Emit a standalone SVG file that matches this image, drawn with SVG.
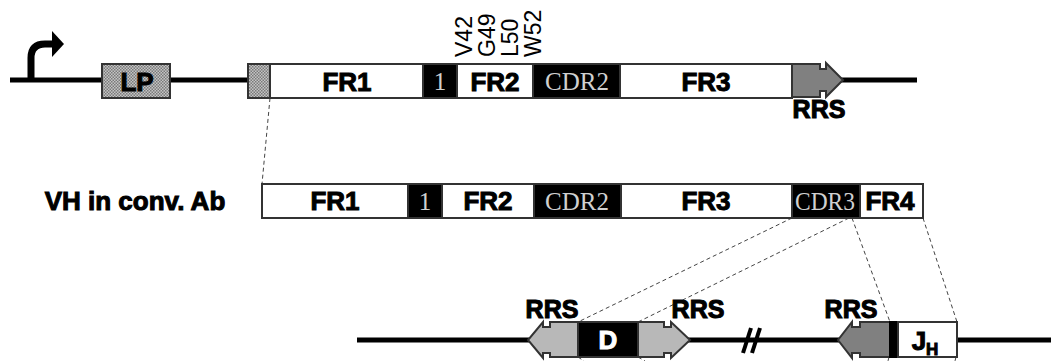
<svg xmlns="http://www.w3.org/2000/svg" width="1051" height="361" viewBox="0 0 1051 361">
<style>
.bg{fill:#fff}
.dna{stroke:#000;stroke-width:5;fill:none}
.box{stroke:#333;stroke-width:2}
.w{fill:#fff}
.k{fill:#000}
.st{fill:url(#stip)}
.g1{fill:#808080}
.g2{fill:#b8b8b8}
.lb{font-family:"Liberation Sans",Arial,sans-serif;font-weight:bold;font-size:26px;fill:#000;stroke:#000;stroke-width:1;text-anchor:middle}
.lw{fill:#fff;stroke:#fff}
.sf{font-family:"Liberation Serif","Times New Roman",serif;font-size:25px;fill:#d0d0d0;text-anchor:middle}
.aa{font-family:"Liberation Sans",Arial,sans-serif;font-size:23px;fill:#000}
.rrs{font-family:"Liberation Sans",Arial,sans-serif;font-weight:bold;font-size:25px;fill:#000;stroke:#000;stroke-width:1.1;text-anchor:middle}
.dash{stroke:#444;stroke-width:1;stroke-dasharray:4 3;fill:none}
</style>
<defs>
<pattern id="stip" width="3" height="3" patternUnits="userSpaceOnUse">
<rect width="3" height="3" fill="#c4c4c4"/>
<rect width="1.5" height="1.5" fill="#7a7a7a"/>
<rect x="1.5" y="1.5" width="1.5" height="1.5" fill="#7a7a7a"/>
</pattern>
</defs>
<rect class="bg" width="1051" height="361"/>

<g id="connectors">
<line class="dash" x1="270" y1="98" x2="262" y2="184"/>
<line class="dash" x1="792" y1="218" x2="578" y2="322"/>
<line class="dash" x1="849" y1="218" x2="638" y2="322"/>
<line class="dash" x1="852" y1="218" x2="890" y2="322"/>
<line class="dash" x1="923" y1="218" x2="957" y2="322"/>
<line class="dash" x1="578" y1="357" x2="584" y2="361"/>
<line class="dash" x1="638" y1="357" x2="645" y2="361"/>
<line class="dash" x1="889" y1="357" x2="888" y2="361"/>
<line class="dash" x1="956" y1="357" x2="955" y2="361"/>
</g>

<g id="top-row">
<line class="dna" x1="10" y1="80" x2="917" y2="80"/>
<g id="promoter">
<path d="M31,80 V58 Q31,44 45,44 H54" stroke="#000" stroke-width="7" fill="none"/>
<polygon points="52,31 64,44 52,57" fill="#000"/>
</g>
<g id="LP">
<rect class="box st" x="102" y="64" width="68" height="34"/>
<text class="lb" x="137" y="91">LP</text>
</g>
<g id="top-stip"><rect class="box st" x="248" y="64" width="22" height="34"/></g>
<g id="top-FR1"><rect class="box w" x="270" y="64" width="153" height="34"/><text class="lb" x="347" y="91">FR1</text></g>
<g id="top-CDR1"><rect class="box k" x="423" y="64" width="34" height="34"/><text class="sf" x="440" y="90">1</text></g>
<g id="top-FR2"><rect class="box w" x="457" y="64" width="76" height="34"/><text class="lb" x="495" y="91">FR2</text></g>
<g id="top-CDR2"><rect class="box k" x="533" y="64" width="87" height="34"/><text class="sf" x="577" y="90">CDR2</text></g>
<g id="top-FR3"><rect class="box w" x="620" y="64" width="172" height="34"/><text class="lb" x="706" y="91">FR3</text></g>
<g id="top-RRS">
<polygon class="box g1" points="792,64 820,64 820,69 826,69 826,63 843,80 826,97 826,91 820,91 820,97 792,97"/>
<text class="rrs" x="819" y="118">RRS</text>
</g>
<g id="residues">
<text class="aa" transform="translate(472,57) rotate(-90)">V42</text>
<text class="aa" transform="translate(495,57) rotate(-90)">G49</text>
<text class="aa" transform="translate(518,57) rotate(-90)">L50</text>
<text class="aa" transform="translate(541,57) rotate(-90)">W52</text>
</g>
</g>

<g id="mid-row">
<text class="lb" x="135" y="210">VH in conv. Ab</text>
<g id="mid-FR1"><rect class="box w" x="262" y="184" width="146" height="34"/><text class="lb" x="335" y="210">FR1</text></g>
<g id="mid-CDR1"><rect class="box k" x="408" y="184" width="34" height="34"/><text class="sf" x="425" y="210">1</text></g>
<g id="mid-FR2"><rect class="box w" x="442" y="184" width="92" height="34"/><text class="lb" x="488" y="210">FR2</text></g>
<g id="mid-CDR2"><rect class="box k" x="534" y="184" width="87" height="34"/><text class="sf" x="577" y="210">CDR2</text></g>
<g id="mid-FR3"><rect class="box w" x="621" y="184" width="171" height="34"/><text class="lb" x="706" y="210">FR3</text></g>
<g id="mid-CDR3"><rect class="box k" x="792" y="184" width="68" height="34"/><text class="sf" x="825" y="210" textLength="60" lengthAdjust="spacingAndGlyphs">CDR3</text></g>
<g id="mid-FR4"><rect class="box w" x="860" y="184" width="63" height="34"/><text class="lb" x="890" y="210">FR4</text></g>
</g>

<g id="bottom-row">
<line class="dna" x1="357" y1="340" x2="1051" y2="340"/>
<g id="break">
<line x1="743" y1="353" x2="751" y2="328" stroke="#000" stroke-width="4"/>
<line x1="752" y1="353" x2="760" y2="328" stroke="#000" stroke-width="4"/>
</g>
<g id="RRS-D-left">
<polygon class="box g2" points="578,322 550,322 550,327 543,327 543,322 528,340 543,358 543,353 550,353 550,357 578,357"/>
<text class="rrs" x="552" y="318">RRS</text>
</g>
<g id="D"><rect class="box k" x="578" y="322" width="60" height="35"/><text class="lb lw" x="608" y="349">D</text></g>
<g id="RRS-D-right">
<polygon class="box g2" points="638,322 664,322 664,327 671,327 671,322 690,340 671,358 671,353 664,353 664,357 638,357"/>
<text class="rrs" x="698" y="318">RRS</text>
</g>
<g id="RRS-J">
<polygon class="box g1" points="890,322 860,322 860,327 852,327 852,322 838,340 852,358 852,353 860,353 860,357 890,357"/>
<text class="rrs" x="851" y="318">RRS</text>
</g>
<g id="JH">
<rect class="k" x="889" y="321" width="10" height="37"/>
<rect class="box w" x="898" y="322" width="59" height="35"/>
<text class="lb" x="925" y="350">J<tspan font-size="17" dy="5">H</tspan></text>
</g>
</g>
</svg>
